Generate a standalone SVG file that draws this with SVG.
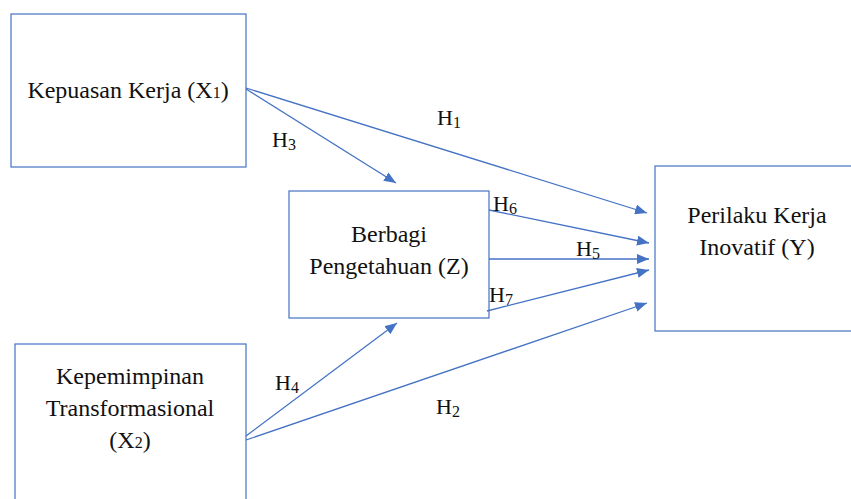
<svg xmlns="http://www.w3.org/2000/svg" width="851" height="499" viewBox="0 0 851 499" font-family="Liberation Serif, Times New Roman, serif">
<style>
.box{fill:#fff;stroke:#4472C4;stroke-width:1.2}
.ln{stroke:#4472C4;stroke-width:1.3;fill:none}
.t{font-size:24px;fill:#111}
.h{font-size:22px;fill:#111}
.c{text-anchor:middle}
.s{font-size:16px}
</style>
<defs>
<marker id="ah" viewBox="0 0 12 10" refX="12" refY="5" markerWidth="12" markerHeight="10" markerUnits="userSpaceOnUse" orient="auto">
<path d="M0,0 L12,5 L0,10 z" fill="#4472C4"/>
</marker>
</defs>
<rect width="851" height="499" fill="#fff"/>
<g id="n-x1"><rect class="box" x="11" y="14" width="235" height="153"/>
<text class="t c" x="128" y="98">Kepuasan Kerja (X<tspan class="s">1</tspan>)</text></g>
<g id="n-z"><rect class="box" x="289" y="191" width="200" height="127"/>
<text class="t c" x="389" y="242">Berbagi</text><text class="t c" x="389" y="274">Pengetahuan (Z)</text></g>
<g id="n-y"><rect class="box" x="655" y="166" width="200" height="165"/>
<text class="t c" x="757" y="223">Perilaku Kerja</text><text class="t c" x="757" y="255">Inovatif (Y)</text></g>
<g id="n-x2"><rect class="box" x="15" y="344" width="231" height="160"/>
<text class="t c" x="130" y="384">Kepemimpinan</text><text class="t c" x="130" y="416">Transformasional</text><text class="t c" x="130" y="448">(X<tspan class="s">2</tspan>)</text></g>
<g id="connectors">
<line class="ln" x1="246" y1="88" x2="647" y2="213" marker-end="url(#ah)"/>
<line class="ln" x1="246" y1="89" x2="396" y2="183" marker-end="url(#ah)"/>
<line class="ln" x1="489" y1="210" x2="649" y2="243" marker-end="url(#ah)"/>
<line class="ln" x1="489" y1="259" x2="649" y2="259" marker-end="url(#ah)"/>
<line class="ln" x1="487" y1="311" x2="649" y2="270" marker-end="url(#ah)"/>
<line class="ln" x1="246" y1="436" x2="397" y2="323" marker-end="url(#ah)"/>
<line class="ln" x1="246" y1="440" x2="647" y2="303" marker-end="url(#ah)"/>
</g>
<g id="labels">
<text class="h" x="437" y="125">H<tspan class="s" dy="3">1</tspan></text>
<text class="h" x="272" y="147">H<tspan class="s" dy="3">3</tspan></text>
<text class="h" x="493" y="211">H<tspan class="s" dy="3">6</tspan></text>
<text class="h" x="576" y="256">H<tspan class="s" dy="3">5</tspan></text>
<text class="h" x="489" y="302">H<tspan class="s" dy="3">7</tspan></text>
<text class="h" x="275" y="390">H<tspan class="s" dy="3">4</tspan></text>
<text class="h" x="436" y="414">H<tspan class="s" dy="3">2</tspan></text>
</g>
</svg>
